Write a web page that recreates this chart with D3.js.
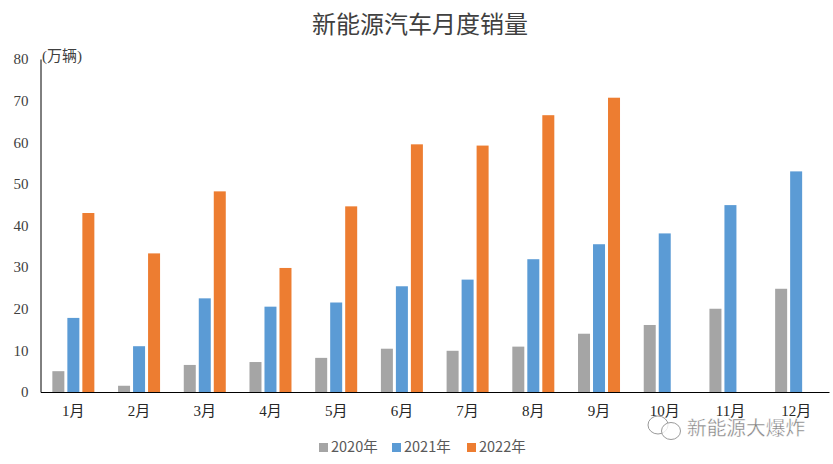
<!DOCTYPE html>
<html>
<head>
<meta charset="utf-8">
<script src="https://cdn.jsdelivr.net/npm/d3@7"></script>
<style>
  html, body { margin: 0; padding: 0; background: #fff; overflow: hidden; }
  svg { display: block; }
</style>
</head>
<body>
<div id="canvas"></div>
<script>
// 新能源汽车月度销量 (万辆)
const months = ['1月', '2月', '3月', '4月', '5月', '6月', '7月', '8月', '9月', '10月', '11月', '12月'];
const years = ['2020年', '2021年', '2022年'];
const sales2020 = [5, 1.5, 6.5, 7.2, 8.2, 10.4, 9.9, 10.9, 14, 16.1, 20, 24.8];
const sales2021 = [17.8, 11, 22.5, 20.5, 21.5, 25.4, 27, 31.9, 35.5, 38.1, 44.9, 53];
const sales2022 = [43, 33.3, 48.2, 29.8, 44.6, 59.5, 59.2, 66.5, 70.7, null, null, null];
const yTicks = [0, 10, 20, 30, 40, 50, 60, 70, 80];
const colors = ['#a5a5a5', '#5b9bd5', '#ed7d31'];

const serif = '"Liberation Serif", "Noto Sans CJK SC", serif';
const sans = '"Noto Sans CJK SC", sans-serif';

const width = 833;
const height = 464;

const svg = d3.select('#canvas').append('svg')
  .attr('width', width)
  .attr('height', height);

const x = d3.scaleBand().domain(months).range([40.5, 829]).paddingInner(0).paddingOuter(0);
const xInner = d3.scaleBand().domain(years).range([x.bandwidth() / 2 - 21, x.bandwidth() / 2 + 21]).paddingInner(0.2).paddingOuter(0);
const y = d3.scaleLinear().domain([0, 80]).range([392, 59]);

svg.append('text')
  .attr('x', 420).attr('y', 33)
  .attr('text-anchor', 'middle')
  .attr('font-family', sans)
  .attr('font-size', 24)
  .attr('fill', '#404040')
  .text('新能源汽车月度销量');

const seriesList = [sales2020, sales2021, sales2022];
seriesList.forEach((values, s) => {
  svg.append('g')
    .attr('fill', colors[s])
    .selectAll('rect')
    .data(values.map((v, i) => ({ month: months[i], value: v })).filter((d) => d.value !== null))
    .join('rect')
    .attr('x', (d) => x(d.month) + xInner(years[s]))
    .attr('width', xInner.bandwidth())
    .attr('y', (d) => y(d.value))
    .attr('height', (d) => y(0) - y(d.value));
});

const yAxis = svg.append('g')
  .attr('transform', 'translate(40.5,0)')
  .call(d3.axisLeft(y).tickValues(yTicks).tickSize(0).tickPadding(12));
yAxis.select('.domain').attr('stroke', '#000').attr('stroke-width', 1);
yAxis.selectAll('text')
  .attr('font-family', serif)
  .attr('font-size', 15)
  .attr('fill', '#404040');

const xAxis = svg.append('g')
  .attr('transform', 'translate(0,392)')
  .call(d3.axisBottom(x).tickSize(0).tickPadding(13));
xAxis.select('.domain').attr('stroke', '#000').attr('stroke-width', 1);
xAxis.selectAll('text')
  .attr('font-family', serif)
  .attr('font-size', 15)
  .attr('fill', '#262626');

svg.append('text')
  .attr('x', 42).attr('y', 61)
  .attr('font-family', serif)
  .attr('font-size', 15)
  .attr('fill', '#404040')
  .text('(万辆)');

// 图例
const legendX = [319, 392, 467];
years.forEach((name, i) => {
  svg.append('rect')
    .attr('x', legendX[i]).attr('y', 443)
    .attr('width', 9).attr('height', 9)
    .attr('fill', colors[i]);
  svg.append('text')
    .attr('x', legendX[i] + 12).attr('y', 452)
    .attr('font-family', sans)
    .attr('font-size', 14.5)
    .attr('fill', '#595959')
    .text(name);
});

// 水印
const mark = svg.append('g');
mark.append('ellipse').attr('cx', 658).attr('cy', 425).attr('rx', 10).attr('ry', 9);
mark.append('ellipse').attr('cx', 671).attr('cy', 431).attr('rx', 9.5).attr('ry', 8.5);
mark.selectAll('ellipse')
  .attr('fill', '#fff')
  .attr('fill-opacity', 0.8)
  .attr('stroke', '#9a9a9a')
  .attr('stroke-width', 1);
svg.append('text')
  .attr('x', 687).attr('y', 435)
  .attr('font-family', sans)
  .attr('font-size', 19.7)
  .attr('fill', '#7f7f7f')
  .attr('stroke', '#fff')
  .attr('stroke-width', 0.4)
  .text('新能源大爆炸');
</script>
</body>
</html>
